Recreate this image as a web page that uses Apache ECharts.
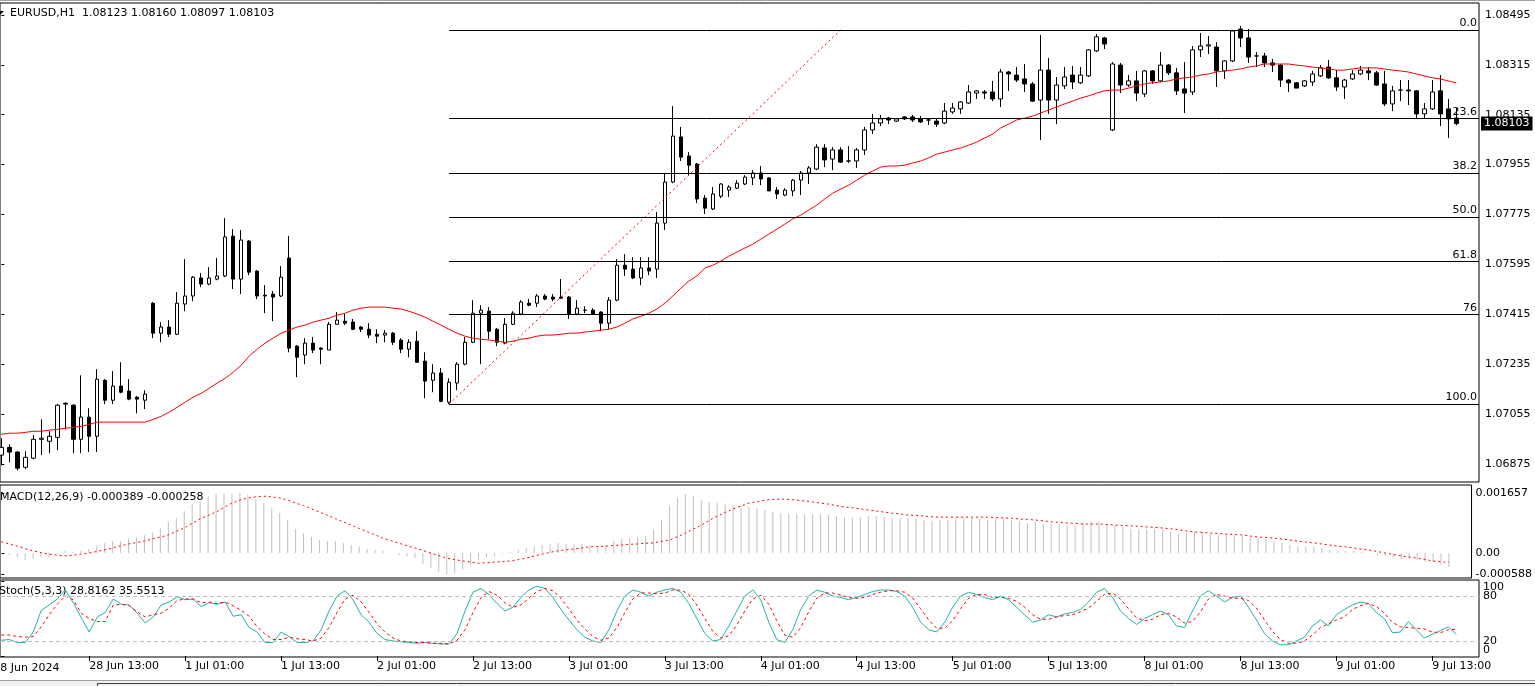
<!DOCTYPE html>
<html><head><meta charset="utf-8">
<script src="https://cdn.jsdelivr.net/npm/echarts@6/dist/echarts.min.js"></script>
<style>html,body{margin:0;padding:0;background:#fff;overflow:hidden}#c{width:1535px;height:686px}</style>
</head><body><div id="c"></div>
<script>
const symbolName = 'EURUSD,H1';
const opens = [1.06907,1.06935,1.06918,1.06863,1.06896,1.06964,1.06957,1.06971,1.07094,1.07087,1.06964,1.07044,1.06975,1.07177,1.07105,1.07156,1.07138,1.07116,1.07105,1.07455,
1.07347,1.07369,1.07343,1.07452,1.07481,1.07546,1.07524,1.07542,1.07553,1.07697,1.07542,1.07679,1.07571,1.07484,1.07488,1.07481,1.07618,1.07300,1.07268,1.07311,
1.07293,1.07286,1.07379,1.07390,1.07387,1.07369,1.07361,1.07343,1.07340,1.07347,1.07322,1.07289,1.07318,1.07246,1.07177,1.07203,1.07098,1.07167,1.07235,1.07314,
1.07419,1.07426,1.07361,1.07311,1.07379,1.07416,1.07455,1.07455,1.07481,1.07477,1.07477,1.07477,1.07416,1.07430,1.07430,1.07423,1.07383,1.07466,1.07592,1.07578,
1.07546,1.07582,1.07578,1.07744,1.07892,1.08055,1.07986,1.07957,1.07834,1.07795,1.07841,1.07863,1.07870,1.07885,1.07907,1.07925,1.07907,1.07863,1.07845,1.07860,
1.07899,1.07925,1.07939,1.08015,1.07975,1.08008,1.07968,1.07968,1.08008,1.08080,1.08105,1.08123,1.08112,1.08127,1.08127,1.08120,1.08116,1.08112,1.08105,1.08145,
1.08156,1.08177,1.08213,1.08217,1.08217,1.08192,1.08289,1.08278,1.08264,1.08246,1.08188,1.08296,1.08188,1.08239,1.08278,1.08250,1.08275,1.08365,1.08412,1.08080,
1.08314,1.08242,1.08257,1.08210,1.08293,1.08257,1.08314,1.08286,1.08228,1.08217,1.08369,1.08383,1.08379,1.08293,1.08329,1.08444,1.08412,1.08347,1.08347,1.08322,
1.08314,1.08260,1.08250,1.08239,1.08253,1.08275,1.08307,1.08268,1.08235,1.08264,1.08282,1.08293,1.08286,1.08246,1.08174,1.08224,1.08224,1.08221,1.08138,1.08156,
1.08221,1.08156,1.08123];
const highs = [1.06968,1.06946,1.06921,1.06921,1.06979,1.07036,1.06993,1.07091,1.07098,1.07091,1.07195,1.07076,1.07217,1.07181,1.07210,1.07242,1.07181,1.07120,1.07141,1.07459,
1.07387,1.07394,1.07495,1.07614,1.07553,1.07564,1.07585,1.07618,1.07762,1.07722,1.07719,1.07683,1.07574,1.07520,1.07499,1.07589,1.07697,1.07304,1.07329,1.07333,
1.07296,1.07387,1.07423,1.07416,1.07398,1.07372,1.07383,1.07361,1.07358,1.07351,1.07329,1.07325,1.07354,1.07278,1.07235,1.07221,1.07184,1.07242,1.07333,1.07466,
1.07448,1.07441,1.07365,1.07401,1.07426,1.07466,1.07470,1.07488,1.07488,1.07488,1.07542,1.07481,1.07466,1.07444,1.07437,1.07426,1.07477,1.07614,1.07632,1.07621,
1.07621,1.07621,1.07784,1.07921,1.08166,1.08091,1.08000,1.07961,1.07845,1.07874,1.07888,1.07881,1.07899,1.07917,1.07935,1.07950,1.07910,1.07874,1.07870,1.07903,
1.07932,1.07950,1.08029,1.08029,1.08018,1.08018,1.08022,1.08015,1.08091,1.08138,1.08134,1.08127,1.08123,1.08130,1.08134,1.08130,1.08120,1.08120,1.08177,1.08177,
1.08184,1.08242,1.08224,1.08224,1.08257,1.08300,1.08293,1.08307,1.08318,1.08253,1.08423,1.08340,1.08271,1.08307,1.08311,1.08307,1.08372,1.08426,1.08416,1.08325,
1.08322,1.08278,1.08293,1.08296,1.08296,1.08361,1.08318,1.08304,1.08325,1.08383,1.08430,1.08419,1.08397,1.08332,1.08441,1.08455,1.08444,1.08361,1.08358,1.08336,
1.08318,1.08264,1.08253,1.08260,1.08293,1.08314,1.08332,1.08296,1.08264,1.08296,1.08311,1.08307,1.08293,1.08293,1.08239,1.08260,1.08260,1.08224,1.08177,1.08260,
1.08278,1.08192,1.08160];
const lows = [1.06870,1.06881,1.06852,1.06856,1.06892,1.06907,1.06914,1.06925,1.07000,1.06914,1.06914,1.06918,1.06918,1.07091,1.07091,1.07130,1.07105,1.07058,1.07073,1.07329,
1.07314,1.07333,1.07340,1.07426,1.07462,1.07513,1.07520,1.07538,1.07549,1.07506,1.07488,1.07556,1.07470,1.07419,1.07390,1.07477,1.07278,1.07188,1.07235,1.07275,
1.07235,1.07286,1.07379,1.07376,1.07358,1.07351,1.07329,1.07311,1.07314,1.07304,1.07275,1.07260,1.07242,1.07112,1.07134,1.07098,1.07091,1.07141,1.07231,1.07311,
1.07235,1.07325,1.07300,1.07307,1.07376,1.07412,1.07444,1.07441,1.07466,1.07462,1.07470,1.07398,1.07412,1.07419,1.07412,1.07354,1.07361,1.07462,1.07553,1.07542,
1.07520,1.07556,1.07546,1.07719,1.07888,1.07968,1.07917,1.07816,1.07777,1.07791,1.07834,1.07838,1.07867,1.07881,1.07881,1.07881,1.07860,1.07831,1.07841,1.07841,
1.07845,1.07885,1.07935,1.07946,1.07935,1.07961,1.07961,1.07943,1.07990,1.08065,1.08094,1.08101,1.08109,1.08116,1.08109,1.08105,1.08098,1.08091,1.08101,1.08138,
1.08138,1.08174,1.08192,1.08192,1.08184,1.08163,1.08221,1.08253,1.08217,1.08181,1.08044,1.08138,1.08101,1.08228,1.08228,1.08246,1.08271,1.08361,1.08372,1.08076,
1.08213,1.08235,1.08184,1.08199,1.08246,1.08253,1.08278,1.08206,1.08141,1.08206,1.08343,1.08354,1.08235,1.08264,1.08325,1.08379,1.08322,1.08307,1.08307,1.08289,
1.08235,1.08217,1.08231,1.08235,1.08239,1.08271,1.08264,1.08221,1.08192,1.08260,1.08278,1.08260,1.08239,1.08166,1.08148,1.08184,1.08170,1.08120,1.08123,1.08152,
1.08094,1.08051,1.08097];
const closes = [1.06935,1.06918,1.06860,1.06899,1.06964,1.06968,1.06975,1.07087,1.07091,1.06964,1.07044,1.06975,1.07181,1.07105,1.07156,1.07134,1.07109,1.07109,1.07127,1.07347,
1.07369,1.07343,1.07455,1.07481,1.07549,1.07524,1.07546,1.07553,1.07694,1.07542,1.07683,1.07567,1.07481,1.07481,1.07477,1.07549,1.07293,1.07260,1.07311,1.07286,
1.07289,1.07379,1.07394,1.07383,1.07361,1.07361,1.07340,1.07336,1.07347,1.07314,1.07289,1.07314,1.07242,1.07174,1.07203,1.07101,1.07170,1.07235,1.07314,1.07419,
1.07430,1.07354,1.07314,1.07379,1.07419,1.07459,1.07448,1.07481,1.07470,1.07470,1.07473,1.07416,1.07437,1.07430,1.07416,1.07383,1.07466,1.07592,1.07578,1.07546,
1.07582,1.07571,1.07744,1.07892,1.08058,1.07982,1.07953,1.07831,1.07798,1.07849,1.07885,1.07874,1.07888,1.07910,1.07925,1.07903,1.07860,1.07849,1.07863,1.07899,
1.07925,1.07943,1.08018,1.07972,1.08008,1.07964,1.07968,1.08008,1.08080,1.08105,1.08120,1.08116,1.08120,1.08120,1.08116,1.08109,1.08116,1.08101,1.08148,1.08159,
1.08181,1.08217,1.08221,1.08213,1.08192,1.08289,1.08282,1.08260,1.08246,1.08184,1.08296,1.08188,1.08242,1.08271,1.08253,1.08278,1.08369,1.08416,1.08390,1.08318,
1.08242,1.08257,1.08213,1.08293,1.08257,1.08314,1.08286,1.08221,1.08213,1.08369,1.08383,1.08387,1.08293,1.08329,1.08437,1.08412,1.08343,1.08347,1.08322,1.08314,
1.08260,1.08250,1.08231,1.08257,1.08282,1.08304,1.08268,1.08235,1.08260,1.08282,1.08296,1.08286,1.08242,1.08174,1.08221,1.08224,1.08221,1.08138,1.08156,1.08217,
1.08138,1.08120,1.08103];
const maValues = [1.06982,1.06986,1.06986,1.06989,1.06993,1.06993,1.06997,1.07000,1.07004,1.07007,1.07011,1.07018,1.07026,1.07026,1.07026,1.07026,1.07026,1.07026,1.07026,1.07036,
1.07047,1.07062,1.07080,1.07098,1.07116,1.07130,1.07148,1.07167,1.07184,1.07206,1.07231,1.07264,1.07289,1.07311,1.07329,1.07347,1.07358,1.07369,1.07376,1.07387,
1.07394,1.07401,1.07412,1.07419,1.07430,1.07437,1.07441,1.07441,1.07441,1.07437,1.07434,1.07426,1.07416,1.07405,1.07390,1.07376,1.07361,1.07347,1.07336,1.07329,
1.07325,1.07322,1.07318,1.07314,1.07318,1.07325,1.07329,1.07336,1.07340,1.07340,1.07343,1.07347,1.07347,1.07351,1.07354,1.07358,1.07361,1.07369,1.07383,1.07398,
1.07408,1.07419,1.07434,1.07455,1.07481,1.07509,1.07535,1.07553,1.07582,1.07592,1.07607,1.07625,1.07639,1.07654,1.07668,1.07686,1.07704,1.07722,1.07740,1.07759,
1.07773,1.07791,1.07809,1.07831,1.07852,1.07867,1.07881,1.07899,1.07917,1.07932,1.07946,1.07950,1.07950,1.07953,1.07961,1.07968,1.07979,1.07993,1.08000,1.08008,
1.08015,1.08025,1.08036,1.08051,1.08065,1.08087,1.08101,1.08116,1.08123,1.08130,1.08141,1.08152,1.08163,1.08174,1.08184,1.08195,1.08203,1.08213,1.08221,1.08224,
1.08224,1.08231,1.08239,1.08246,1.08250,1.08253,1.08257,1.08264,1.08268,1.08271,1.08278,1.08282,1.08289,1.08293,1.08296,1.08300,1.08307,1.08311,1.08318,1.08318,
1.08318,1.08318,1.08314,1.08311,1.08307,1.08304,1.08300,1.08296,1.08296,1.08300,1.08304,1.08304,1.08304,1.08300,1.08296,1.08293,1.08289,1.08282,1.08275,1.08268,
1.08264,1.08257,1.08250];
const macdMain = [-0.00002,-0.00005,-0.00012,-0.00019,-0.00017,-0.00012,-0.00012,-0.00002,0.00006,0.00004,0.00006,0.00011,0.0002,0.00027,0.00033,0.00033,0.0004,0.00043,0.00049,0.00057,
0.00068,0.00086,0.00096,0.00116,0.00135,0.00142,0.00156,0.00163,0.00164,0.00162,0.001657,0.0016,0.00148,0.00139,0.00123,0.0011,0.00091,0.00066,0.00055,0.00044,
0.00036,0.00033,0.00033,0.00028,0.00022,0.00017,0.00011,0.00008,0.00006,0,-0.00006,-0.00008,-0.00014,-0.0003,-0.00042,-0.00052,-0.000588,-0.00055,-0.00045,-0.00032,
-0.0002,-0.00012,-0.00008,-0.00003,0.00003,0.00008,0.00014,0.00019,0.00022,0.00025,0.00028,0.00025,0.00025,0.00025,0.00022,0.00019,0.00022,0.00033,0.00039,0.00041,
0.00044,0.00047,0.00064,0.00091,0.0013,0.00152,0.00163,0.00157,0.00146,0.00141,0.00138,0.00135,0.00133,0.0013,0.00127,0.00124,0.00119,0.00113,0.0011,0.00108,
0.00108,0.00105,0.00108,0.00108,0.00105,0.00102,0.00099,0.00097,0.00099,0.00102,0.00102,0.00099,0.00099,0.00097,0.00097,0.00094,0.00091,0.00088,0.00091,0.00091,
0.00094,0.00097,0.00097,0.00094,0.00091,0.00094,0.00094,0.00091,0.00088,0.00083,0.00086,0.0008,0.0008,0.0008,0.00077,0.00077,0.00083,0.00088,0.00088,0.0008,
0.00075,0.00072,0.00066,0.00066,0.00064,0.00066,0.00064,0.00058,0.00052,0.00055,0.00058,0.00058,0.00052,0.0005,0.00052,0.00052,0.00047,0.00044,0.00041,0.00039,
0.00033,0.00028,0.00022,0.00019,0.00017,0.00017,0.00014,0.00008,0.00006,0.00006,0.00006,0.00003,0,-0.00006,-0.00008,-0.00011,-0.00017,-0.00017,-0.00019,-0.00024,
-0.00025,-0.00033,-0.000389];
const macdSignal = [0.00031,0.00025,0.00019,0.00012,0.00006,0.00001,-0.00003,-0.00006,-0.00008,-0.00006,-0.00003,0,0.00004,0.00009,0.00014,0.0002,0.00025,0.00029,0.00033,0.00039,
0.00044,0.0005,0.0006,0.00069,0.00082,0.00094,0.00104,0.00113,0.00126,0.00138,0.00146,0.00152,0.00155,0.00157,0.00155,0.00152,0.00146,0.00138,0.00131,0.00122,
0.00113,0.00104,0.00095,0.00086,0.00077,0.00068,0.00059,0.0005,0.00041,0.00034,0.00027,0.0002,0.00014,0.00007,0,-0.00007,-0.00014,-0.00018,-0.00022,-0.00025,
-0.00028,-0.00027,-0.00025,-0.00024,-0.00022,-0.00018,-0.00014,-0.00008,-0.00003,0.00002,0.00006,0.00009,0.00011,0.00014,0.00017,0.00018,0.00019,0.00021,0.00022,0.00024,
0.00025,0.00027,0.00028,0.00032,0.00036,0.00045,0.00055,0.00066,0.00077,0.0009,0.00102,0.00112,0.00122,0.0013,0.00138,0.00142,0.00146,0.00148,0.00149,0.00148,
0.00146,0.00144,0.00141,0.00138,0.00135,0.00131,0.00127,0.00125,0.00122,0.00119,0.00116,0.00113,0.0011,0.00108,0.00105,0.00104,0.00102,0.001,0.00099,0.00099,
0.00099,0.00099,0.00099,0.00099,0.00099,0.00098,0.00097,0.00096,0.00094,0.00093,0.00091,0.00089,0.00086,0.00085,0.00083,0.00082,0.0008,0.0008,0.0008,0.00079,
0.00077,0.00076,0.00075,0.00074,0.00072,0.00071,0.00069,0.00067,0.00064,0.00061,0.00058,0.00057,0.00055,0.00054,0.00052,0.00051,0.0005,0.00047,0.00044,0.00043,
0.00041,0.00039,0.00036,0.00033,0.0003,0.00028,0.00025,0.00022,0.00019,0.00017,0.00014,0.00011,0.00008,0.00004,0,-0.00004,-0.00008,-0.00011,-0.00014,-0.00018,
-0.00022,-0.00024,-0.000258];
const stochMain = [21,22,18,18,32,61,68,76,88,71,51,32,52,58,76,69,68,57,44,52,
68,72,79,75,76,66,71,69,72,53,55,38,32,18,18,32,26,18,18,20,
35,60,80,87,75,55,45,30,22,20,19,18,17,18,17,16,16,30,60,85,
90,82,70,60,65,78,88,93,90,78,62,48,35,25,20,18,35,60,80,88,
85,80,85,88,90,85,70,50,30,20,22,40,60,80,88,75,45,22,18,35,
62,80,88,85,80,78,75,78,82,86,88,88,86,80,65,45,35,32,45,65,
80,85,82,78,75,80,75,65,55,45,48,55,52,56,58,62,72,85,90,78,
60,50,42,50,55,60,55,40,38,60,80,87,80,72,78,80,65,48,30,20,
15,15,20,25,40,48,40,55,62,68,72,70,58,50,31,32,46,35,24,29,
34,39,28.8162];
const stochSignal = [28,28,26,25,26,39,55,69,80,75,57,50,46,46,68,69,67,59,52,55,
57,64,74,76,76,71,72,70,72,67,61,53,39,29,22,22,25,23,22,20,
24,38,58,76,81,72,58,43,32,24,20,19,18,18,17,17,16,21,35,58,
78,86,81,71,65,68,77,86,90,87,77,63,48,36,26,21,24,38,58,76,
84,84,83,84,88,88,82,68,50,33,24,27,41,60,76,81,69,47,28,25,
38,59,77,84,84,81,78,77,78,82,85,87,87,85,77,63,48,37,37,47,
63,77,82,82,78,78,77,73,65,55,49,49,52,54,55,59,64,73,82,84,
76,63,51,47,49,55,57,52,44,46,59,76,82,80,77,77,74,64,48,33,
22,17,17,20,28,38,43,48,52,62,67,70,66,57,45,39,38,37,36,32,
31,35,35.5513];
const priceTicks = [1.06875,1.07055,1.07235,1.07415,1.07595,1.07775,1.07955,1.08135,1.08315,1.08495];
const macdTicks = [-0.000588, 0, 0.001657];
const stochTicks = [0, 20, 80, 100];
const stochInnerTicks = [20, 80];
const stochLevels = [80, 20];
const timeLabelIdx = [11,23,35,47,59,71,83,95,107,119,131,143,155,167,179];
const timeLabels = ['28 Jun 13:00','1 Jul 01:00','1 Jul 13:00','2 Jul 01:00','2 Jul 13:00','3 Jul 01:00','3 Jul 13:00','4 Jul 01:00','4 Jul 13:00','5 Jul 01:00','5 Jul 13:00','8 Jul 01:00','8 Jul 13:00','9 Jul 01:00','9 Jul 13:00'];
const firstDateIdx = -1, firstDateText = '28 Jun 2024';
const fibHigh = 1.08441, fibLow = 1.07091, fibStartIdx = 56, trendEndIdx = 105;
const fibLevels = [0, 23.6, 38.2, 50, 61.8, 76, 100];
const fibLabels = ['0.0','23.6','38.2','50.0','61.8','76','100.0'];

const FONT = '"DejaVu Sans", sans-serif';
const N = closes.length, last = N - 1;
const xMin = -0.1625, xMax = 184.8375;
const chart = echarts.init(document.getElementById('c'));
const candleData = opens.map((o, i) => [i, o, closes[i], lows[i], highs[i]]);
const fibLines = fibLevels.map((lv, k) => {
  const p = fibHigh - lv / 100 * (fibHigh - fibLow);
  return [{coord: [fibStartIdx, p], label: {formatter: fibLabels[k]}}, {coord: [xMax, p]}];
});
const priceBox = [{coord: [xMin, closes[last]], lineStyle: {color: 'rgba(0,0,0,0)'},
  label: {position: 'end', formatter: closes[last].toFixed(5), backgroundColor: '#000', color: '#fff', padding: [2, 3, 1, 3], distance: 2}},
  {coord: [xMax, closes[last]]}];
const gridBase = {left: -1, right: 56, show: true, borderColor: '#000', borderWidth: 1, backgroundColor: '#fff'};
const lblStyle = {color: '#000', fontFamily: FONT, fontSize: 11};
function yAx(g, min, max, ticks, labelVals, fmt, extra) {
  return Object.assign({type: 'value', gridIndex: g, position: 'right', min, max, splitLine: {show: false},
    axisLine: {show: false},
    axisTick: {show: true, customValues: ticks, length: 3, lineStyle: {color: '#000'}},
    axisLabel: Object.assign({customValues: labelVals, formatter: fmt, margin: 6}, lblStyle, extra || {})});
}
const option = {
  animation: false,
  textStyle: {fontFamily: FONT, fontSize: 11, color: '#000'},
  grid: [Object.assign({top: 3, height: 479}, gridBase), Object.assign({top: 485, height: 93}, gridBase), Object.assign({top: 580, height: 77}, gridBase)],
  xAxis: [0, 1, 2].map(g => ({type: 'value', gridIndex: g, min: xMin, max: xMax, show: g === 2,
    axisLine: {show: false}, splitLine: {show: false},
    axisTick: {show: g === 2, customValues: timeLabelIdx, length: 5, lineStyle: {color: '#000'}},
    axisLabel: Object.assign({show: g === 2, customValues: timeLabelIdx, align: 'left', margin: 4,
      formatter: v => timeLabels[timeLabelIdx.indexOf(Math.round(v))] || ''}, lblStyle)})),
  yAxis: [
    yAx(0, 1.06810, 1.08538, priceTicks, priceTicks, v => v.toFixed(5)),
    yAx(1, -0.00069, 0.0018785, macdTicks, macdTicks, v => v === 0 ? '0.00' : v.toFixed(6), {margin: 4}),
    yAx(2, -1.33, 101.33, stochTicks, stochInnerTicks, v => String(v), {margin: 4})
  ],
  series: [
    {type: 'candlestick', xAxisIndex: 0, yAxisIndex: 0, z: 3,
      dimensions: ['idx', 'open', 'close', 'lowest', 'highest'],
      encode: {x: 'idx', y: ['open', 'close', 'lowest', 'highest']},
      data: candleData, barWidth: 4,
      itemStyle: {color: '#fff', color0: '#000', borderColor: '#000', borderColor0: '#000', borderWidth: 1},
      markLine: {symbol: ['none', 'none'], silent: true, animation: false,
        lineStyle: {color: '#000', width: 1, type: 'solid'},
        label: {position: 'insideEndTop', color: '#000', fontFamily: FONT, fontSize: 11, distance: [2, 1]},
        data: fibLines.concat([priceBox])}
    },
    {type: 'line', xAxisIndex: 0, yAxisIndex: 0, z: 4, data: maValues.map((v, i) => [i, v]), showSymbol: false,
      lineStyle: {color: '#ff0000', width: 1}},
    {type: 'line', xAxisIndex: 0, yAxisIndex: 0, z: 4, data: [[fibStartIdx, fibLow], [trendEndIdx, fibHigh]], showSymbol: false,
      lineStyle: {color: '#ff0000', width: 1, type: [2, 3]}},
    {type: 'bar', xAxisIndex: 1, yAxisIndex: 1, data: macdMain.map((v, i) => [i, v]), barWidth: 1,
      itemStyle: {color: '#c0c0c0'}},
    {type: 'line', xAxisIndex: 1, yAxisIndex: 1, data: macdSignal.map((v, i) => [i, v]), showSymbol: false,
      lineStyle: {color: '#ff0000', width: 1, type: [2, 3]}},
    {type: 'line', xAxisIndex: 2, yAxisIndex: 2, data: stochMain.map((v, i) => [i, v]), showSymbol: false,
      lineStyle: {color: '#20b2aa', width: 1}},
    {type: 'line', xAxisIndex: 2, yAxisIndex: 2, data: stochSignal.map((v, i) => [i, v]), showSymbol: false,
      lineStyle: {color: '#ff0000', width: 1, type: [3, 3]},
      markLine: {symbol: ['none', 'none'], silent: true, label: {show: false},
        lineStyle: {color: '#c0c0c0', width: 1, type: [4, 3]},
        data: stochLevels.map(v => ({yAxis: v}))}}
  ]
};
chart.setOption(option);
const firstX = chart.convertToPixel({xAxisIndex: 2}, firstDateIdx);
const axX = chart.convertToPixel({xAxisIndex: 2}, xMax);
const yTop = chart.convertToPixel({yAxisIndex: 2}, stochTicks[3]);
const yBot = chart.convertToPixel({yAxisIndex: 2}, stochTicks[0]);
const f11 = '11px "DejaVu Sans"';
chart.setOption({graphic: [
  {type: 'rect', id: 'bot', shape: {x: 0, y: 680, width: 1535, height: 6}, style: {fill: '#f0f0f0'}},
  {type: 'line', id: 'bot1', shape: {x1: 0, y1: 680.5, x2: 1535, y2: 680.5}, style: {stroke: '#a0a0a0', lineWidth: 1}},
  {type: 'line', id: 'bot2', shape: {x1: 97, y1: 683.5, x2: 1535, y2: 683.5}, style: {stroke: '#404040', lineWidth: 1}},
  {type: 'line', id: 'bot3', shape: {x1: 97.5, y1: 683, x2: 97.5, y2: 686}, style: {stroke: '#404040', lineWidth: 1}},
  {type: 'line', id: 'top0', shape: {x1: 0, y1: 0.5, x2: 1535, y2: 0.5}, style: {stroke: '#a0a0a0', lineWidth: 1}},
  {type: 'polygon', id: 'tri', shape: {points: [[0, 11], [4, 11], [0, 15]]}, style: {fill: '#000'}},
  {type: 'text', id: 'title', x: 10, y: 13, style: {text: symbolName + '  ' + [opens[last], highs[last], lows[last], closes[last]].map(v => v.toFixed(5)).join(' '), font: f11, fill: '#000', verticalAlign: 'middle'}},
  {type: 'text', id: 'macdT', x: 0, y: 497, style: {text: 'MACD(12,26,9) ' + macdMain[last].toFixed(6) + ' ' + macdSignal[last].toFixed(6), font: f11, fill: '#000', verticalAlign: 'middle'}},
  {type: 'text', id: 'stochT', x: -1, y: 591, style: {text: 'Stoch(5,3,3) ' + stochMain[last].toFixed(4) + ' ' + stochSignal[last].toFixed(4), font: f11, fill: '#000', verticalAlign: 'middle'}},
  {type: 'text', id: 's100', x: axX + 4, y: yTop + 1, style: {text: String(stochTicks[3]), font: f11, fill: '#000', verticalAlign: 'top'}},
  {type: 'text', id: 's0', x: axX + 4, y: yBot, style: {text: String(stochTicks[0]), font: f11, fill: '#000', verticalAlign: 'bottom'}},
  {type: 'text', id: 'firstDate', x: firstX, y: 668, style: {text: firstDateText, font: f11, fill: '#000', verticalAlign: 'middle'}}
]});
</script>
</body></html>
